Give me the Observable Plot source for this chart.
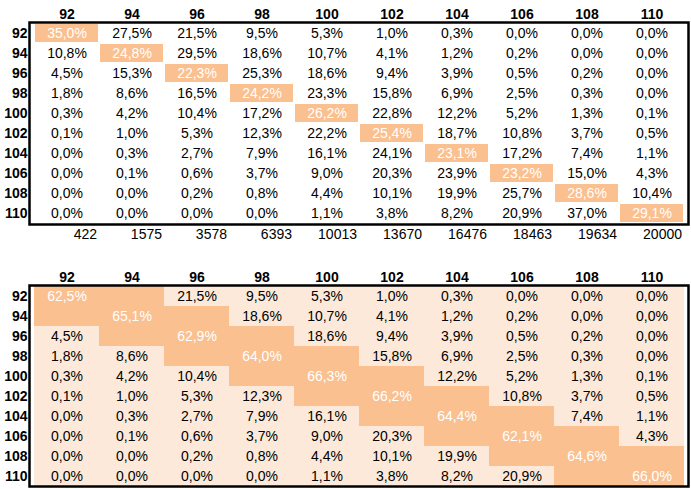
<!DOCTYPE html>
<html><head><meta charset="utf-8">
<script src="https://cdn.jsdelivr.net/npm/d3@7"></script>
<script src="https://cdn.jsdelivr.net/npm/@observablehq/plot@0.6"></script>
<style>body{margin:0;background:#fff} svg{display:block}</style>
</head><body><div id="chart"></div>
<script>
const levels = ["92","94","96","98","100","102","104","106","108","110"];
const row92  = [35.0, 27.5, 21.5,  9.5,  5.3,  1.0,  0.3,  0.0,  0.0,  0.0];
const row94  = [10.8, 24.8, 29.5, 18.6, 10.7,  4.1,  1.2,  0.2,  0.0,  0.0];
const row96  = [ 4.5, 15.3, 22.3, 25.3, 18.6,  9.4,  3.9,  0.5,  0.2,  0.0];
const row98  = [ 1.8,  8.6, 16.5, 24.2, 23.3, 15.8,  6.9,  2.5,  0.3,  0.0];
const row100 = [ 0.3,  4.2, 10.4, 17.2, 26.2, 22.8, 12.2,  5.2,  1.3,  0.1];
const row102 = [ 0.1,  1.0,  5.3, 12.3, 22.2, 25.4, 18.7, 10.8,  3.7,  0.5];
const row104 = [ 0.0,  0.3,  2.7,  7.9, 16.1, 24.1, 23.1, 17.2,  7.4,  1.1];
const row106 = [ 0.0,  0.1,  0.6,  3.7,  9.0, 20.3, 23.9, 23.2, 15.0,  4.3];
const row108 = [ 0.0,  0.0,  0.2,  0.8,  4.4, 10.1, 19.9, 25.7, 28.6, 10.4];
const row110 = [ 0.0,  0.0,  0.0,  0.0,  1.1,  3.8,  8.2, 20.9, 37.0, 29.1];
const counts = [422, 1575, 3578, 6393, 10013, 13670, 16476, 18463, 19634, 20000];
const bandSums = [62.5, 65.1, 62.9, 64.0, 66.3, 66.2, 64.4, 62.1, 64.6, 66.0];

const matrix = [row92,row94,row96,row98,row100,row102,row104,row106,row108,row110];
const cells = [];
matrix.forEach((row,i)=>row.forEach((v,j)=>cells.push({row:levels[i], col:levels[j], i, j, v})));
const fmt = v => v.toFixed(1).replace(".", ",") + "%";
const DARK = "#FAC090", LIGHT = "#FDE9D9";
const font = "'Liberation Sans', Arial, sans-serif";
const style = {fontFamily: font, fontSize: "14px", color: "black", background: "white"};

const plot1 = Plot.plot({
  width: 691, height: 245,
  marginLeft: 29, marginRight: 3, marginTop: 22, marginBottom: 21,
  x: {type: "band", domain: levels, padding: 0, axis: null},
  y: {type: "band", domain: levels, padding: 0, axis: null},
  style,
  marks: [
    Plot.cell(cells.filter(d => d.i === d.j), {x: "col", y: "row", fill: DARK, inset: 1}),
    Plot.text(cells.filter(d => d.i !== d.j), {x: "col", y: "row", text: d => fmt(d.v), fill: "black", fontSize: 14}),
    Plot.text(cells.filter(d => d.i === d.j), {x: "col", y: "row", text: d => fmt(d.v), fill: "white", fontSize: 14}),
    Plot.axisX({anchor: "top", label: null, tickSize: 0, tickPadding: 4, fontWeight: "bold", fontSize: 14}),
    Plot.axisY({anchor: "left", label: null, tickSize: 0, tickPadding: 2, fontWeight: "bold", fontSize: 14}),
    Plot.axisX({anchor: "bottom", label: null, tickSize: 0, tickPadding: 5, fontSize: 14,
      tickFormat: d => String(counts[levels.indexOf(d)]), textAnchor: "end", dx: 30}),
    Plot.frame({stroke: "black", strokeWidth: 2.5})
  ]
});

const plot2 = Plot.plot({
  width: 691, height: 244,
  marginLeft: 29, marginRight: 3, marginTop: 40, marginBottom: 3,
  x: {type: "band", domain: levels, padding: 0, axis: null},
  y: {type: "band", domain: levels, padding: 0, axis: null},
  style,
  marks: [
    Plot.cell(cells.filter(d => Math.abs(d.i - d.j) > 1), {x: "col", y: "row", fill: LIGHT}),
    Plot.cell(cells.filter(d => Math.abs(d.i - d.j) <= 1), {x: "col", y: "row", fill: DARK}),
    Plot.text(cells.filter(d => Math.abs(d.i - d.j) > 1), {x: "col", y: "row", text: d => fmt(d.v), fill: "black", fontSize: 14}),
    Plot.text(cells.filter(d => d.i === d.j), {x: "col", y: "row", text: d => fmt(bandSums[d.i]), fill: "white", fontSize: 14}),
    Plot.axisX({anchor: "top", label: null, tickSize: 0, tickPadding: 4, fontWeight: "bold", fontSize: 14}),
    Plot.axisY({anchor: "left", label: null, tickSize: 0, tickPadding: 2, fontWeight: "bold", fontSize: 14}),
    Plot.frame({stroke: "black", strokeWidth: 2.5})
  ]
});

const chart = document.getElementById("chart");
chart.appendChild(plot1);
chart.appendChild(plot2);
</script>
</body></html>
